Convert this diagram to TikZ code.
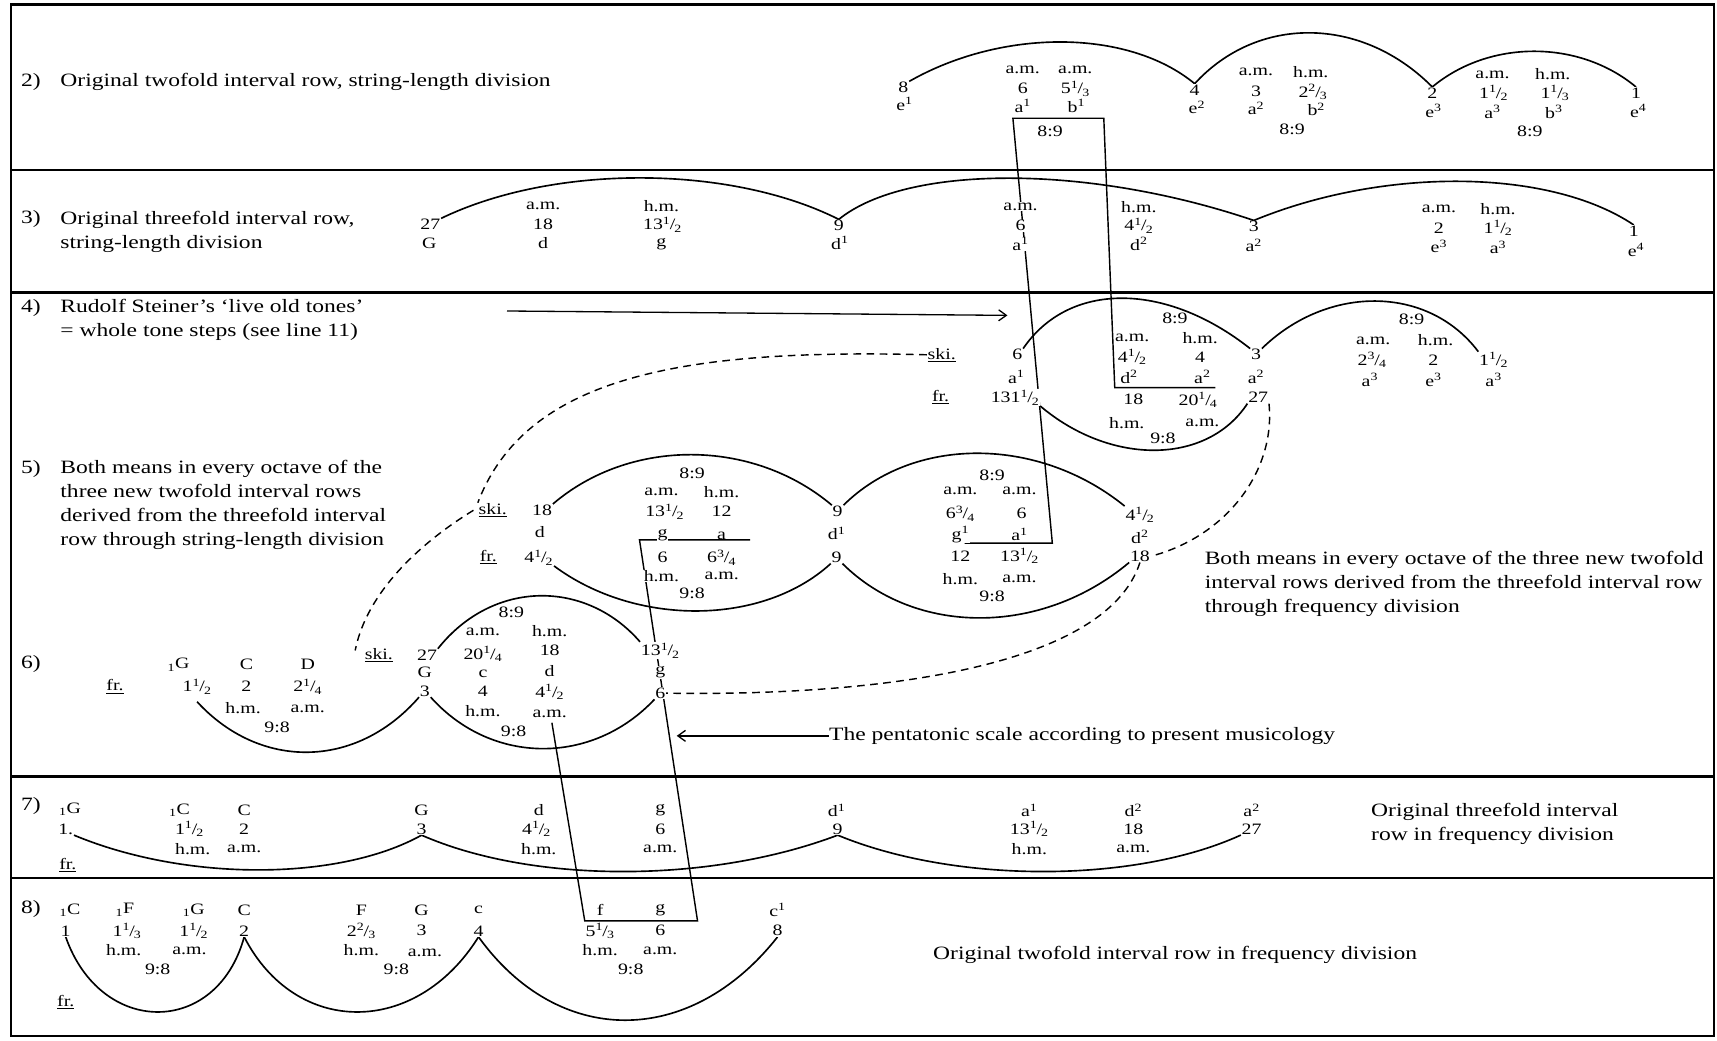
\documentclass[tikz,border=0pt]{standalone}
\usepackage{fontspec}
\setmainfont{Liberation Serif}[FakeStretch=1.25]
\usetikzlibrary{arrows.meta}
\pgfdeclarelayer{bg}
\pgfsetlayers{bg,main}
\newcommand\dgfont{\fontsize{14.5}{17}\selectfont}
\newcommand\lbfont{\fontsize{17.2}{22}\selectfont}
\newcommand\frc[2]{\textsuperscript{#1}\kern-0.04em/\kern-0.06em\textsubscript{#2}}
\newcommand\sps[1]{\textsuperscript{#1}}
\newcommand\lsb{\textsubscript{1}}
\begin{document}
\begin{tikzpicture}[x=1pt,y=-1pt,
  d/.style={font=\dgfont,inner sep=0.6pt,fill=white},
  dn/.style={font=\dgfont,inner sep=0.6pt},
  lb/.style={font=\lbfont,inner sep=0pt,anchor=west,align=left},
  arcl/.style={line width=1.5pt},
  conn/.style={line width=1.3pt},
  dsh/.style={line width=1.3pt,dash pattern=on 7pt off 5pt},
  rule/.style={line width=2.2pt},
  arr/.style={line width=1.2pt,-{Straight Barb[length=7pt,width=10pt]}}]
\useasboundingbox (0,0) rectangle (1568,950);

% ---------- row labels ----------
\node[lb] (l2n) at (19,75) {2)};
\node[lb] (l2t) at (55,75) {Original twofold interval row, string-length division};
\node[lb] (l3n) at (19,200) {3)};
\node[lb] (l3t) at (55,211.5) {Original threefold interval row,\\string-length division};
\node[lb] (l4n) at (19,281) {4)};
\node[lb] (l4t) at (55,292) {Rudolf Steiner’s ‘live old tones’\\= whole tone steps (see line 11)};
\node[lb] (l5n) at (19,428) {5)};
\node[lb] (l5t) at (55,461) {Both means in every octave of the\\three new twofold interval rows\\derived from the threefold interval\\row through string-length division};
\node[lb] (l6n) at (19,606) {6)};
\node[lb] (l7n) at (19,736) {7)};
\node[lb] (l8n) at (19,830) {8)};
\node[lb] (rt5) at (1100,533) {Both means in every octave of the three new twofold\\interval rows derived from the threefold interval row\\through frequency division};
\node[lb] (pent) at (757,672) {The pentatonic scale according to present musicology};
\node[lb] (rt7) at (1252,752) {Original threefold interval\\row in frequency division};
\node[lb] (rt8) at (852,872) {Original twofold interval row in frequency division};

% ---------- row 2 ----------
\node[d] (r2n8) at (825,80) {8};
\node[d] (r2e1) at (826,95) {e\sps{1}};
\node[d] (r2m1) at (934,64) {a.m.};
\node[d] (r2n6) at (934,81) {6};
\node[d] (r2a1) at (934,97) {a\sps{1}};
\node[d] (r2m2) at (982,64) {a.m.};
\node[d] (r2n53) at (982,81) {5\frc{1}{3}};
\node[d] (r2b1) at (983,97) {b\sps{1}};
\node[d] (r2q1) at (959,120) {8:9};
\node[d] (r2n4) at (1091,82) {4};
\node[d] (r2e2) at (1093,98) {e\sps{2}};
\node[d] (r2m3) at (1147,66) {a.m.};
\node[d] (r2n3) at (1147,83) {3};
\node[d] (r2a2) at (1147,99) {a\sps{2}};
\node[d] (r2h1) at (1197,66) {h.m.};
\node[d] (r2n23) at (1199,84) {2\frc{2}{3}};
\node[d] (r2b2) at (1202,100) {b\sps{2}};
\node[d] (r2q2) at (1180,118) {8:9};
\node[d] (r2n2) at (1308,85) {2};
\node[d] (r2e3) at (1309,101) {e\sps{3}};
\node[d] (r2m4) at (1363,68) {a.m.};
\node[d] (r2n15) at (1364,85) {1\frc{1}{2}};
\node[d] (r2a3) at (1363,102) {a\sps{3}};
\node[d] (r2h2) at (1418,68) {h.m.};
\node[d] (r2n13) at (1420,85) {1\frc{1}{3}};
\node[d] (r2b3) at (1419,102) {b\sps{3}};
\node[d] (r2q3) at (1397,120) {8:9};
\node[d] (r2n1) at (1494,85) {1};
\node[d] (r2e4) at (1496,101) {e\sps{4}};

% ---------- row 3 ----------
\node[d] (r3n27) at (393,205) {27};
\node[d] (r3G) at (392,222) {G};
\node[d] (r3m1) at (496,188) {a.m.};
\node[d] (r3n18) at (496,205) {18};
\node[d] (r3d) at (496,222) {d};
\node[d] (r3h1) at (604,188) {h.m.};
\node[d] (r3n135) at (605,205) {13\frc{1}{2}};
\node[d] (r3g) at (604,223) {g};
\node[d] (r3n9) at (766,206) {9};
\node[d] (r3d1) at (767,222) {d\sps{1}};
\node[d] (r3m2) at (932,189) {a.m.};
\node[d] (r3n6) at (932,206) {6};
\node[d] (r3a1) at (932,223) {a\sps{1}};
\node[d] (r3h2) at (1040,189) {h.m.};
\node[d] (r3n45) at (1040,206) {4\frc{1}{2}};
\node[d] (r3d2) at (1040,223) {d\sps{2}};
\node[d] (r3n3) at (1145,207) {3};
\node[d] (r3a2) at (1145,224) {a\sps{2}};
\node[d] (r3m3) at (1314,191) {a.m.};
\node[d] (r3n2) at (1314,208) {2};
\node[d] (r3e3) at (1314,225) {e\sps{3}};
\node[d] (r3h3) at (1368,191) {h.m.};
\node[d] (r3n15) at (1368,208) {1\frc{1}{2}};
\node[d] (r3a3) at (1368,226) {a\sps{3}};
\node[d] (r3n1) at (1492,211) {1};
\node[d] (r3e4) at (1494,228) {e\sps{4}};

% ---------- row 4 ----------
\node[d] (r4ski) at (860,324) {\underline{ski.}};
\node[d] (r4n6) at (929,324) {6};
\node[d] (r4a1) at (928,344) {a\sps{1}};
\node[d] (r4fr) at (859,363) {\underline{fr.}};
\node[d] (r4n131) at (927,363) {131\frc{1}{2}};
\node[d] (r4q1) at (1073,291) {8:9};
\node[d] (r4m1) at (1034,309) {a.m.};
\node[d] (r4h1) at (1096,309) {h.m.};
\node[d] (r4n45) at (1034,326) {4\frc{1}{2}};
\node[d] (r4n4) at (1096,326) {4};
\node[dn] (r4d2) at (1031,344) {d\sps{2}};
\node[dn] (r4a2) at (1098,344) {a\sps{2}};
\node[d] (r4n18) at (1035,365) {18};
\node[d] (r4n204) at (1094,365) {20\frc{1}{4}};
\node[d] (r4h2) at (1029,386) {h.m.};
\node[d] (r4m2) at (1098,386) {a.m.};
\node[d] (r4r1) at (1062,400) {9:8};
\node[d] (r4n3) at (1147,324) {3};
\node[d] (r4a2b) at (1147,344) {a\sps{2}};
\node[d] (r4n27) at (1149,363) {27};
\node[d] (r4q2) at (1289,292) {8:9};
\node[d] (r4m3) at (1254,311) {a.m.};
\node[d] (r4h3) at (1311,311) {h.m.};
\node[d] (r4n234) at (1253,329) {2\frc{3}{4}};
\node[d] (r4n2) at (1309,329) {2};
\node[d] (r4n15) at (1364,329) {1\frc{1}{2}};
\node[d] (r4a3) at (1251,347) {a\sps{3}};
\node[d] (r4e3) at (1309,347) {e\sps{3}};
\node[d] (r4a3b) at (1364,347) {a\sps{3}};

% ---------- row 5 ----------
\node[d] (r5ski) at (450,466) {\underline{ski.}};
\node[d] (r5n18) at (495,466) {18};
\node[d] (r5d) at (493,486) {d};
\node[d] (r5fr) at (446,509) {\underline{fr.}};
\node[d] (r5n45) at (492,509) {4\frc{1}{2}};
\node[d] (r5q1) at (632,432) {8:9};
\node[d] (r5m1) at (604,449) {a.m.};
\node[d] (r5h1) at (659,449) {h.m.};
\node[d] (r5n135) at (607,467) {13\frc{1}{2}};
\node[d] (r5n12) at (659,467) {12};
\node[d] (r5g) at (605,489) {g};
\node[dn] (r5a) at (659,489) {a};
\node[d] (r5n6) at (605,509) {6};
\node[d] (r5n634) at (659,509) {6\frc{3}{4}};
\node[d] (r5h2) at (604,526) {h.m.};
\node[d] (r5m2) at (659,526) {a.m.};
\node[d] (r5r1) at (632,542) {9:8};
\node[d] (r5n9a) at (765,467) {9};
\node[d] (r5d1) at (764,487) {d\sps{1}};
\node[d] (r5n9b) at (764,509) {9};
\node[d] (r5q2) at (906,434) {8:9};
\node[d] (r5m3) at (877,448) {a.m.};
\node[d] (r5m4) at (931,448) {a.m.};
\node[d] (r5n634b) at (877,469) {6\frc{3}{4}};
\node[d] (r5n6b) at (933,469) {6};
\node[d] (r5g1) at (877,488) {g\sps{1}};
\node[dn] (r5a1) at (931,488) {a\sps{1}};
\node[d] (r5n12b) at (877,508) {12};
\node[d] (r5n135b) at (931,508) {13\frc{1}{2}};
\node[d] (r5h3) at (877,529) {h.m.};
\node[d] (r5m5) at (931,529) {a.m.};
\node[d] (r5r2) at (906,545) {9:8};
\node[d] (r5n45b) at (1041,470) {4\frc{1}{2}};
\node[d] (r5d2) at (1041,490) {d\sps{2}};
\node[d] (r5n18b) at (1041,508) {18};

% ---------- row 6 ----------
\node[d] (r6fr) at (105,627) {\underline{fr.}};
\node[d] (r6G) at (163,607) {\lsb G};
\node[d] (r6n15) at (180,627) {1\frc{1}{2}};
\node[d] (r6C) at (225,607) {C};
\node[d] (r6n2) at (225,627) {2};
\node[d] (r6D) at (281,607) {D};
\node[d] (r6n214) at (281,627) {2\frc{1}{4}};
\node[d] (r6h1) at (222,647) {h.m.};
\node[d] (r6m1) at (281,647) {a.m.};
\node[d] (r6r1) at (253,664) {9:8};
\node[d] (r6ski) at (346,598) {\underline{ski.}};
\node[d] (r6n27) at (390,598) {27};
\node[d] (r6G2) at (388,614) {G};
\node[d] (r6n3) at (388,631) {3};
\node[d] (r6q1) at (467,559) {8:9};
\node[d] (r6m2) at (441,577) {a.m.};
\node[d] (r6h2) at (502,576) {h.m.};
\node[d] (r6n204) at (441,597) {20\frc{1}{4}};
\node[d] (r6n18) at (502,594) {18};
\node[d] (r6c) at (441,615) {c};
\node[d] (r6d) at (502,613) {d};
\node[d] (r6n4) at (441,631) {4};
\node[d] (r6n45) at (502,632) {4\frc{1}{2}};
\node[d] (r6h3) at (441,649) {h.m.};
\node[d] (r6m3) at (502,652) {a.m.};
\node[d] (r6r2) at (469,668) {9:8};
\node[d] (r6n135) at (603,594) {13\frc{1}{2}};
\node[d] (r6g) at (603,614) {g};
\node[d] (r6n6) at (603,633) {6};

% ---------- row 7 ----------
\node[d] (r7G) at (64,739) {\lsb G};
\node[d] (r7n1) at (60,757) {1.};
\node[d] (r7fr) at (62,790) {\underline{fr.}};
\node[d] (r7C1) at (164,740) {\lsb C};
\node[d] (r7n15) at (173,757) {1\frc{1}{2}};
\node[d] (r7C) at (223,740) {C};
\node[d] (r7n2) at (223,757) {2};
\node[d] (r7h1) at (176,775) {h.m.};
\node[d] (r7m1) at (223,775) {a.m.};
\node[d] (r7G2) at (385,740) {G};
\node[d] (r7n3) at (385,757) {3};
\node[d] (r7d) at (492,740) {d};
\node[d] (r7n45) at (490,757) {4\frc{1}{2}};
\node[d] (r7h2) at (492,775) {h.m.};
\node[d] (r7g) at (603,740) {g};
\node[d] (r7n6) at (603,757) {6};
\node[d] (r7m2) at (603,775) {a.m.};
\node[d] (r7d1) at (764,740) {d\sps{1}};
\node[d] (r7n9) at (765,757) {9};
\node[d] (r7a1) at (940,740) {a\sps{1}};
\node[d] (r7n135) at (940,757) {13\frc{1}{2}};
\node[d] (r7h3) at (940,775) {h.m.};
\node[d] (r7d2) at (1035,740) {d\sps{2}};
\node[d] (r7n18) at (1035,757) {18};
\node[d] (r7m3) at (1035,775) {a.m.};
\node[d] (r7a2) at (1143,740) {a\sps{2}};
\node[d] (r7n27) at (1143,757) {27};

% ---------- row 8 ----------
\node[d] (r8C1) at (64,831) {\lsb C};
\node[d] (r8n1) at (60,850) {1};
\node[d] (r8F1) at (114,831) {\lsb F};
\node[d] (r8n113) at (116,850) {1\frc{1}{3}};
\node[d] (r8G1) at (177,831) {\lsb G};
\node[d] (r8n15) at (177,850) {1\frc{1}{2}};
\node[d] (r8C) at (223,831) {C};
\node[d] (r8n2) at (223,850) {2};
\node[d] (r8h1) at (113,868) {h.m.};
\node[d] (r8m1) at (173,868) {a.m.};
\node[d] (r8r1) at (144,885) {9:8};
\node[d] (r8F) at (330,831) {F};
\node[d] (r8n223) at (330,850) {2\frc{2}{3}};
\node[d] (r8h2) at (330,868) {h.m.};
\node[d] (r8G) at (385,831) {G};
\node[d] (r8n3) at (385,850) {3};
\node[d] (r8m2) at (388,870) {a.m.};
\node[d] (r8c) at (437,831) {c};
\node[d] (r8n4) at (437,850) {4};
\node[d] (r8r2) at (362,885) {9:8};
\node[d] (r8f) at (548,831) {f};
\node[d] (r8g) at (603,831) {g};
\node[d] (r8n513) at (548,850) {5\frc{1}{3}};
\node[d] (r8n6) at (603,850) {6};
\node[d] (r8h3) at (548,868) {h.m.};
\node[d] (r8m3) at (603,868) {a.m.};
\node[d] (r8r3) at (576,885) {9:8};
\node[d] (r8c1) at (710,831) {c\sps{1}};
\node[d] (r8n8) at (710,850) {8};
\node[d] (r8fr) at (60,915) {\underline{fr.}};

% ---------- free coordinates ----------
\coordinate (bx1) at (925,108);
\coordinate (bx2) at (1008,108);
\coordinate (bx3) at (961,496);
\coordinate (bx4) at (881,496);
\coordinate (bx5) at (1018,354);
\coordinate (bx6) at (1110,354);
\coordinate (by1) at (584,493);
\coordinate (by2) at (685,493);
\coordinate (by3) at (504,660);
\coordinate (by4) at (534,841);
\coordinate (by5) at (637,841);
\coordinate (ar1s) at (463,284);
\coordinate (ar1e) at (920,288);
\coordinate (ar2e) at (618,672);

\begin{pgfonlayer}{bg}
% frame and dividers
\draw[rule] (10,4) rectangle (1565,946);
\draw[rule] (10,155) -- (1565,155);
\draw[rule] (10,267) -- (1565,267);
\draw[rule] (10,709) -- (1565,709);
\draw[rule] (10,802) -- (1565,802);
% row 2 arcs
\draw[arcl] (r2n8.north east) .. controls (915,26) and (1030,26) .. (r2n4.north);
\draw[arcl] (r2n4.north) .. controls (1148,14) and (1243,14) .. (r2n2.north);
\draw[arcl] (r2n2.north) .. controls (1360,36) and (1442,36) .. (r2n1.north);
% row 3 arcs
\draw[arcl] (r3n27.north east) .. controls (505,150) and (666,150) .. (r3n9.north);
\draw[arcl] (r3n9.north) .. controls (828,150) and (994,150) .. (r3n3.north);
\draw[arcl] (r3n3.north) .. controls (1262,153) and (1414,153) .. (r3n1.north);
% row 4 arcs
\draw[arcl] (r4n6.north east) .. controls (976,257) and (1064,257) .. (r4n3.north west);
\draw[arcl] (r4n3.north east) .. controls (1212,260) and (1304,260) .. (r4n15.north west);
\draw[arcl] (r4n131.south east) .. controls (1014,425) and (1102,425) .. (r4n27.south west);
% row 5 arcs
\draw[arcl] (r5n18.north east) .. controls (575,400) and (687,400) .. (r5n9a.north west);
\draw[arcl] (r5n45.south east) .. controls (580,572) and (696,572) .. (r5n9b.south west);
\draw[arcl] (r5n9a.north east) .. controls (834,398) and (948,398) .. (r5n45b.north west);
\draw[arcl] (r5n9b.south east) .. controls (836,581) and (951,581) .. (r5n18b.south west);
% row 6 arcs
\draw[arcl] ([yshift=-6pt]r6n15.south) .. controls (237,703) and (325,703) .. (r6n3.south west);
\draw[arcl] (r6n27.north east) .. controls (450,529) and (535,529) .. (r6n135.north west);
\draw[arcl] (r6n3.south east) .. controls (449,699) and (541,699) .. (r6n6.south west);
% row 7 arcs
\draw[arcl] (r7n1.south east) .. controls (169,805) and (309,805) .. (r7n3.south);
\draw[arcl] (r7n3.south) .. controls (486,807) and (648,807) .. (r7n9.south);
\draw[arcl] (r7n9.south) .. controls (872,807) and (1036,807) .. (r7n27.south west);
% row 8 arcs
\draw[arcl] (r8n1.south) .. controls (92,947) and (198,947) .. (r8n2.south);
\draw[arcl] (r8n2.south) .. controls (270,947) and (380,947) .. (r8n4.south);
\draw[arcl] (r8n4.south) .. controls (510,957) and (630,957) .. (r8n8.south);
% long connecting lines
\draw[conn] (bx4) -- (bx3) -- (bx1) -- (bx2) -- (bx5) -- (bx6);
\draw[conn] (by2) -- (by1) -- (by5) -- (by4) -- (by3);
% dashed curves
\draw[dsh] (r4ski.west) .. controls (620,318) and (480,345) .. (r5ski.north west);
\draw[dsh] ([xshift=-4pt]r5ski.west) .. controls (385,495) and (335,540) .. ([xshift=-8pt,yshift=4pt]r6ski.west);
\draw[dsh] (r4n27.south east) .. controls (1165,430) and (1120,490) .. (r5n18b.east);
\draw[dsh] (r5n18b.south) .. controls (1010,610) and (800,636) .. (r6n6.east);
% arrows
\draw[arr] (ar1s) -- (ar1e);
\draw[arr] (pent.west) -- (ar2e);
\end{pgfonlayer}
\end{tikzpicture}
\end{document}
